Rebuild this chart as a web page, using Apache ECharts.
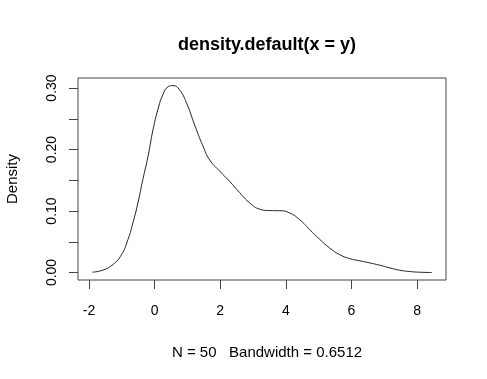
<!DOCTYPE html>
<html>
<head>
<meta charset="utf-8">
<script src="https://cdn.jsdelivr.net/npm/echarts@6/dist/echarts.min.js"></script>
<style>html,body{margin:0;padding:0;background:#fff}#c{width:487px;height:379px}</style>
</head>
<body>
<div id="c"></div>
<script>
var titleText = 'density.default(x = y)';
var subText = 'N = 50   Bandwidth = 0.6512';
var yName = 'Density';
var xTicks = [-2, 0, 2, 4, 6, 8];
var yTicks = [0, 0.05, 0.10, 0.15, 0.20, 0.25, 0.30];
var yLabels = [0, 0.10, 0.20, 0.30];
var xVals = [-1.90, -1.57, -1.27, -1.01, -0.81, -0.66, -0.51, -0.36, -0.20, -0.05, 0.10, 0.25, 0.41, 0.56, 0.76, 0.97, 1.22, 1.47, 1.68, 1.98, 2.29, 2.59, 2.90, 3.20, 3.50, 3.81, 4.11, 4.42, 4.72, 5.03, 5.33, 5.64, 5.94, 6.25, 6.55, 6.85, 7.16, 7.46, 7.77, 8.07, 8.45];
var yVals = [0.0005, 0.004, 0.013, 0.029, 0.054, 0.081, 0.113, 0.151, 0.189, 0.232, 0.265, 0.289, 0.302, 0.304, 0.297, 0.276, 0.240, 0.206, 0.183, 0.165, 0.148, 0.130, 0.113, 0.103, 0.1007, 0.1005, 0.097, 0.086, 0.070, 0.054, 0.040, 0.029, 0.0227, 0.019, 0.0157, 0.012, 0.0076, 0.0038, 0.0016, 0.0005, 0.0];

var data = xVals.map(function (x, i) { return [x, yVals[i]]; });
var font = 'Liberation Sans, Arial, Helvetica, sans-serif';
var chart = echarts.init(document.getElementById('c'), null, {renderer: 'canvas'});
chart.setOption({
  animation: false,
  backgroundColor: '#fff',
  title: [{
    text: titleText, left: 262, top: 31, textAlign: 'center',
    textStyle: {fontFamily: font, fontWeight: 'bold', fontSize: 18, color: '#000'}
  }, {
    text: subText, left: 262, top: 340, textAlign: 'center',
    textStyle: {fontFamily: font, fontWeight: 'normal', fontSize: 15, color: '#000'}
  }],
  grid: {left: 78, top: 78, width: 368, height: 202, outerBoundsMode: 'none', containLabel: false,
    show: true, borderColor: '#444', borderWidth: 1, backgroundColor: 'transparent'},
  xAxis: {
    type: 'value', min: -2.335, max: 8.88,
    axisLine: {show: false, onZero: false},
    splitLine: {show: false},
    axisTick: {show: true, inside: false, length: 9, customValues: xTicks, lineStyle: {color: '#444'}},
    axisLabel: {customValues: xTicks, margin: 24, fontSize: 14, fontFamily: font, color: '#000'}
  },
  yAxis: {
    type: 'value', min: -0.0122, max: 0.3163,
    name: yName, nameLocation: 'middle', nameGap: 58, nameRotate: 90,
    nameTextStyle: {fontFamily: font, fontSize: 15, color: '#000'},
    axisLine: {show: false, onZero: false},
    splitLine: {show: false},
    axisTick: {show: true, length: 9, customValues: yTicks, lineStyle: {color: '#444'}},
    axisLabel: {customValues: yLabels, rotate: 90, margin: 19, fontSize: 14, fontFamily: font, color: '#000',
      formatter: function (v) { return v.toFixed(2); }}
  },
  series: [{
    type: 'line', data: data, smooth: 0.5, symbol: 'none',
    lineStyle: {color: '#222', width: 1}
  }]
});
</script>
</body>
</html>
